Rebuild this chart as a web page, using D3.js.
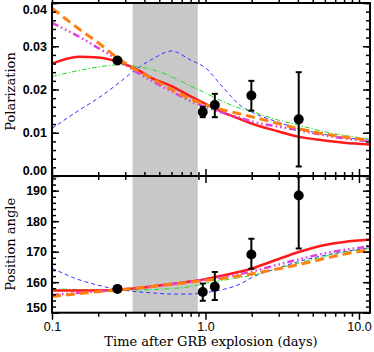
<!DOCTYPE html>
<html>
<head>
<meta charset="utf-8">
<script src="https://cdn.jsdelivr.net/npm/d3@7"></script>
<style>
  body { margin: 0; background: #fff; }
  .tick text { fill: #000; }
  .ylab text { font-family: "Liberation Sans", sans-serif; font-weight: bold; font-size: 12.5px; }
  .xlab text { font-family: "Liberation Sans", sans-serif; font-size: 12.5px; }
  .axisTitle { font-family: "DejaVu Serif", serif; font-size: 13px; fill: #000; }
</style>
</head>
<body>
<div id="chart"></div>
<script>
// model time grid (days)
const tModel = [0.1, 0.15, 0.2, 0.27, 0.35, 0.45, 0.6, 0.8, 1.0, 1.3, 1.7, 2.0, 3.0, 4.0, 6.0, 8.0, 11.8];

// polarization models
const polRed     = [0.0260, 0.0276, 0.0274, 0.0264, 0.0248, 0.0226, 0.0208, 0.0184, 0.0167, 0.0147, 0.0131, 0.0121, 0.0103, 0.0091, 0.0082, 0.0077, 0.0073];
const polOrange  = [0.0388, 0.0340, 0.0308, 0.0272, 0.0246, 0.0225, 0.0200, 0.0178, 0.0165, 0.0153, 0.0143, 0.0137, 0.0121, 0.0110, 0.0097, 0.0090, 0.0083];
const polMagenta = [0.0354, 0.0322, 0.0296, 0.0268, 0.0242, 0.0219, 0.0196, 0.0173, 0.0160, 0.0146, 0.0134, 0.0126, 0.0114, 0.0106, 0.0094, 0.0087, 0.0080];
const polGreen   = [0.0230, 0.0244, 0.0252, 0.0257, 0.0254, 0.0246, 0.0230, 0.0208, 0.0192, 0.0172, 0.0156, 0.0149, 0.0129, 0.0118, 0.0102, 0.0094, 0.0085];
const polBlue    = [0.0110, 0.0152, 0.0180, 0.0214, 0.0246, 0.0270, 0.0289, 0.0268, 0.0250, 0.0205, 0.0162, 0.0148, 0.0124, 0.0110, 0.0096, 0.0089, 0.0083];

// position angle models
const paRed     = [157.3, 157.3, 157.3, 157.5, 158.0, 158.6, 159.4, 160.2, 161.0, 162.2, 163.5, 164.5, 167.6, 169.8, 172.2, 173.2, 174.0];
const paOrange  = [155.3, 156.3, 156.9, 157.5, 158.0, 158.6, 159.3, 160.0, 160.6, 161.3, 162.1, 162.7, 164.4, 165.7, 167.8, 169.2, 170.6];
const paMagenta = [155.8, 156.5, 157.0, 157.5, 158.0, 158.6, 159.3, 160.1, 160.8, 161.7, 162.7, 163.5, 165.8, 167.4, 169.5, 170.6, 171.7];
const paGreen   = [157.8, 157.6, 157.5, 157.4, 157.4, 157.6, 157.9, 158.6, 159.6, 160.6, 161.6, 162.2, 164.6, 166.2, 168.5, 169.8, 171.0];
const paBlue    = [164.6, 160.8, 159.0, 157.6, 156.9, 156.5, 156.1, 156.1, 156.6, 157.6, 159.5, 161.5, 164.7, 166.7, 168.8, 170.0, 171.3];

// observations
const tObs  = [0.267, 0.96, 1.15, 1.99, 4.05];
const pol   = [0.0267, 0.0148, 0.0164, 0.0186, 0.0131];
const polLo = [0.0263, 0.0136, 0.0136, 0.0151, 0.0022];
const polHi = [0.0271, 0.0160, 0.0190, 0.0220, 0.0240];
const pa    = [157.8, 156.8, 158.5, 169.1, 188.4];
const paLo  = [157.2, 153.9, 154.2, 164.4, 171.0];
const paHi  = [158.4, 159.6, 163.3, 174.2, 194.6];

// shaded interval (days)
const band = [0.335, 0.89];

// tick values
const xMajor = [0.1, 1, 10];
const xLabels = ["0.1", "1.0", "10.0"];
const polMajor = [0, 0.01, 0.02, 0.03, 0.04];
const paMajor = [150, 160, 170, 180, 190];

const width = 374, height = 352;
const left = 52, right = 370;
const topP = { y0: 3, y1: 176 };
const botP = { y0: 176, y1: 312.7 };

const svg = d3.select("#chart").append("svg")
    .attr("width", width).attr("height", height);

const x = d3.scaleLog().domain([0.1, 11.8]).range([left, right]);
const yPol = d3.scaleLinear().domain([0, 0.04]).range([topP.y1, topP.y0]);
const yPa = d3.scaleLinear().domain([150, 194.8]).range([botP.y1, botP.y0]);

const xMinor = [];
[0.1, 1, 10].forEach(d => { for (let k = 2; k <= 9; k++) if (d * k <= 11.8) xMinor.push(d * k); });
const polMinor = d3.range(0, 0.0401, 0.002);
const paMinor = d3.range(150, 195, 2);

const models = [
    { pol: polBlue, pa: paBlue, color: "#3333ff", w: 1, dash: "4,3" },
    { pol: polGreen, pa: paGreen, color: "#22dd22", w: 1, dash: "5,2,1.2,2" },
    { pol: polRed, pa: paRed, color: "#ff1a1a", w: 2.5, dash: null },
    { pol: polMagenta, pa: paMagenta, color: "#e040e0", w: 2.5, dash: "7,3,1.6,3,1.6,3,1.6,3" },
    { pol: polOrange, pa: paOrange, color: "#ff7f10", w: 3, dash: "9,5" }
];

function drawPanel(p, y, key, obs, lo, hi, yMaj, yMin, yFmt, showX, id) {
    const g = svg.append("g");

    g.append("clipPath").attr("id", id).append("rect")
        .attr("x", left).attr("y", p.y0).attr("width", right - left).attr("height", p.y1 - p.y0);

    // shaded interval
    g.append("rect")
        .attr("x", x(band[0])).attr("y", p.y0)
        .attr("width", x(band[1]) - x(band[0])).attr("height", p.y1 - p.y0)
        .attr("fill", "#c8c8c8");

    const line = d3.line()
        .x((d, i) => x(tModel[i]))
        .y(d => y(d))
        .curve(d3.curveMonotoneX);

    const curves = g.append("g").attr("clip-path", `url(#${id})`);
    models.forEach(m => {
        curves.append("path")
            .attr("d", line(m[key]))
            .attr("fill", "none")
            .attr("stroke", m.color)
            .attr("stroke-width", m.w)
            .attr("stroke-dasharray", m.dash);
    });

    // error bars + points
    const pts = g.append("g").attr("clip-path", `url(#${id})`);
    tObs.forEach((t, i) => {
        const cx = x(t);
        pts.append("line").attr("x1", cx).attr("x2", cx)
            .attr("y1", y(lo[i])).attr("y2", y(hi[i]))
            .attr("stroke", "#000").attr("stroke-width", 2);
        [lo[i], hi[i]].forEach(v => {
            pts.append("line").attr("x1", cx - 3).attr("x2", cx + 3)
                .attr("y1", y(v)).attr("y2", y(v))
                .attr("stroke", "#000").attr("stroke-width", 2);
        });
        pts.append("circle").attr("cx", cx).attr("cy", y(obs[i])).attr("r", 5).attr("fill", "#000");
    });

    // axes with inward ticks
    const addAxis = (axis, tx, ty, cls) => {
        const a = g.append("g").attr("class", cls || "")
            .attr("transform", `translate(${tx},${ty})`).call(axis);
        a.select(".domain").remove();
        a.selectAll(".tick line").attr("stroke", "#000").attr("stroke-width", 1.5);
        return a;
    };

    const yl = addAxis(d3.axisLeft(y).tickValues(yMaj).tickSizeInner(-7).tickSizeOuter(0).tickPadding(5).tickFormat(yFmt), left, 0, "ylab");
    // keep end labels inside the panel, like the original
    yl.selectAll(".tick text").attr("dy", function () {
        const ty = +this.parentNode.getAttribute("transform").match(/,([\d.]+)/)[1];
        if (ty - p.y0 < 7) return "0.32em"; // shift down
        if (p.y1 - ty < 4) return "-0.05em"; // shift up
        return "0.32em";
    }).attr("y", function () {
        const ty = +this.parentNode.getAttribute("transform").match(/,([\d.]+)/)[1];
        if (ty - p.y0 < 7) return 6;
        if (p.y1 - ty < 4) return -0.5;
        return 0;
    });
    addAxis(d3.axisLeft(y).tickValues(yMin).tickSizeInner(-4).tickSizeOuter(0).tickFormat(""), left, 0);
    addAxis(d3.axisRight(y).tickValues(yMaj).tickSizeInner(-7).tickSizeOuter(0).tickFormat(""), right, 0);
    addAxis(d3.axisRight(y).tickValues(yMin).tickSizeInner(-4).tickSizeOuter(0).tickFormat(""), right, 0);
    addAxis(d3.axisTop(x).tickValues(xMajor).tickSizeInner(-7).tickSizeOuter(0).tickFormat(""), 0, p.y1);
    addAxis(d3.axisTop(x).tickValues(xMinor).tickSizeInner(-4).tickSizeOuter(0).tickFormat(""), 0, p.y1);
    addAxis(d3.axisBottom(x).tickValues(xMajor).tickSizeInner(-7).tickSizeOuter(0).tickFormat(""), 0, p.y0);
    addAxis(d3.axisBottom(x).tickValues(xMinor).tickSizeInner(-4).tickSizeOuter(0).tickFormat(""), 0, p.y0);
    if (showX) {
        addAxis(d3.axisBottom(x).tickValues(xMajor).tickSize(0).tickPadding(9)
            .tickFormat((d, i) => xLabels[i]), 0, p.y1, "xlab");
    }

    // frame
    g.append("rect")
        .attr("x", left).attr("y", p.y0).attr("width", right - left).attr("height", p.y1 - p.y0)
        .attr("fill", "none").attr("stroke", "#000").attr("stroke-width", 2);
}

drawPanel(topP, yPol, "pol", pol, polLo, polHi, polMajor, polMinor, d3.format(".2f"), false, "clipTop");
drawPanel(botP, yPa, "pa", pa, paLo, paHi, paMajor, paMinor, d3.format("d"), true, "clipBot");

svg.append("text").attr("class", "axisTitle")
    .attr("transform", `translate(15,${(topP.y0 + topP.y1) / 2 + 2}) rotate(-90)`)
    .attr("text-anchor", "middle").text("Polarization");

svg.append("text").attr("class", "axisTitle")
    .attr("transform", `translate(15,${(botP.y0 + botP.y1) / 2}) rotate(-90)`)
    .attr("text-anchor", "middle").text("Position angle");

svg.append("text").attr("class", "axisTitle")
    .attr("x", 211).attr("y", 346)
    .attr("text-anchor", "middle").text("Time after GRB explosion (days)");
</script>
</body>
</html>
